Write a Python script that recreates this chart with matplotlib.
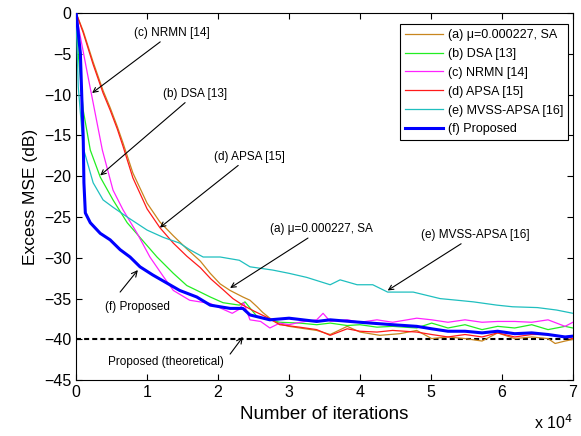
import numpy as np
import matplotlib
matplotlib.use("Agg")
from matplotlib import pyplot as plt

plt.rcParams['font.family'] = ['Liberation Sans', 'DejaVu Sans']

# Data (x in units of 10^4 iterations, y in dB)
x_a = [0, 0.1, 0.24, 0.38, 0.48, 0.58, 0.66, 0.8, 1.0, 1.18, 1.37, 1.56, 1.75, 1.89, 2.03, 2.17,
       2.35, 2.45, 2.55, 2.63, 2.73, 2.87, 3.0, 3.15, 3.39, 3.58, 3.82, 4.0, 4.28, 4.56, 4.8, 5.01,
       5.24, 5.48, 5.72, 5.94, 6.18, 6.42, 6.65, 6.75, 6.89, 7.0]
mse_a = [0, -2.2, -6.0, -9.5, -11.6, -13.9, -15.9, -19.6, -23.3, -25.6, -27.3, -28.9, -30.4, -31.9,
         -33.2, -34.0, -34.8, -35.2, -36.0, -36.7, -37.4, -38.1, -38.4, -38.6, -38.9, -39.4, -38.4,
         -39.1, -39.5, -39.3, -38.9, -39.9, -39.7, -39.9, -40.2, -39.2, -39.9, -39.7, -39.9, -40.5,
         -40.2, -40.0]

x_b = [0, 0.03, 0.1, 0.2, 0.34, 0.52, 0.72, 0.9, 1.14, 1.37, 1.56, 1.75, 1.89, 2.07, 2.3, 2.38,
       2.55, 2.73, 2.87, 3.15, 3.39, 3.58, 3.82, 4.0, 4.24, 4.46, 4.8, 5.01, 5.24, 5.48, 5.72, 5.94,
       6.18, 6.42, 6.65, 6.89, 7.0]
mse_b = [0, -5.0, -11.9, -16.8, -20.1, -22.9, -25.7, -27.5, -29.9, -31.9, -33.4, -34.2, -34.8,
         -35.5, -35.8, -35.4, -37.2, -37.6, -37.9, -38.0, -38.2, -38.0, -38.3, -38.2, -38.5, -38.4,
         -38.6, -38.0, -38.6, -38.2, -38.8, -38.4, -38.6, -38.2, -38.8, -38.4, -38.6]

x_c = [0, 0.06, 0.15, 0.24, 0.37, 0.52, 0.66, 0.86, 1.04, 1.23, 1.37, 1.6, 1.89, 2.07, 2.2, 2.3,
       2.36, 2.45, 2.6, 2.73, 2.87, 3.0, 3.15, 3.39, 3.48, 3.58, 3.82, 4.0, 4.24, 4.46, 4.8, 5.01,
       5.24, 5.48, 5.72, 5.94, 6.18, 6.42, 6.65, 6.89, 7.0]
mse_c = [0, -2.9, -7.0, -11.0, -16.8, -21.7, -24.1, -27.0, -29.9, -32.3, -34.0, -35.2, -35.6,
         -36.3, -36.8, -36.3, -35.5, -37.6, -37.8, -38.6, -38.0, -38.2, -37.9, -37.6, -36.8, -37.8,
         -37.6, -37.9, -37.6, -37.9, -37.4, -37.6, -37.9, -37.6, -37.9, -37.8, -37.8, -37.9, -37.6,
         -38.4, -37.9]

x_d = [0, 0.1, 0.24, 0.38, 0.48, 0.58, 0.66, 0.8, 1.0, 1.18, 1.37, 1.56, 1.75, 1.9, 2.07, 2.21,
       2.35, 2.5, 2.69, 2.87, 3.15, 3.39, 3.58, 3.82, 4.0, 4.24, 4.46, 4.8, 5.01, 5.24, 5.48, 5.72,
       5.94, 6.18, 6.42, 6.65, 6.89, 7.0]
mse_d = [0, -2.4, -6.3, -9.8, -11.9, -14.2, -16.3, -20.2, -24.0, -26.3, -28.2, -29.8, -31.2, -32.6,
         -33.9, -35.0, -35.8, -36.5, -37.3, -38.2, -38.5, -38.8, -39.5, -38.7, -39.0, -39.1, -38.9,
         -39.1, -39.4, -39.7, -39.4, -39.7, -39.2, -39.7, -39.4, -39.4, -39.7, -39.9]

x_e = [0, 0.03, 0.1, 0.24, 0.38, 0.52, 0.72, 1.0, 1.23, 1.46, 1.6, 1.79, 2.03, 2.3, 2.45, 2.77,
       3.0, 3.25, 3.58, 3.72, 3.96, 4.18, 4.39, 4.75, 4.94, 5.13, 5.37, 5.6, 5.93, 6.15, 6.5, 6.77,
       7.0]
mse_e = [0, -9.0, -16.5, -20.8, -22.9, -23.8, -25.0, -26.6, -27.5, -28.2, -29.0, -29.9, -29.9,
         -30.3, -31.1, -31.5, -31.9, -32.4, -33.3, -32.7, -33.3, -33.3, -34.2, -34.2, -34.6, -35.0,
         -35.2, -35.4, -35.8, -36.0, -36.1, -36.4, -36.8]

x_f = [0, 0.06, 0.08, 0.1, 0.11, 0.13, 0.2, 0.34, 0.48, 0.62, 0.76, 0.9, 1.08, 1.28, 1.46, 1.7,
       1.89, 2.17, 2.35, 2.45, 2.73, 3.0, 3.39, 3.58, 4.0, 4.46, 4.8, 5.01, 5.24, 5.48, 5.72, 5.94,
       6.18, 6.42, 6.65, 6.89, 7.0]
mse_f = [0, -4.9, -10.3, -15.2, -20.8, -24.5, -25.7, -27.0, -27.8, -29.0, -29.9, -31.1, -32.1,
         -33.1, -34.0, -34.8, -35.8, -36.2, -36.2, -37.0, -37.6, -37.4, -37.8, -37.6, -37.9, -38.2,
         -38.4, -38.7, -39.0, -39.0, -39.2, -39.0, -39.3, -39.2, -39.4, -39.7, -39.6]

theory_level = -40

labels = ["(a) \u03bc=0.000227, SA", "(b) DSA [13]", "(c) NRMN [14]", "(d) APSA [15]",
          "(e) MVSS-APSA [16]", "(f) Proposed"]
colors = ["#c8861e", "#22ee22", "#ff22ff", "#ff1a1a", "#1fbfbf", "#0000ff"]

fig = plt.figure(figsize=(5.81, 4.36), dpi=100)
ax = fig.add_axes([0.131, 0.128, 0.855, 0.842])

series = [(x_a, mse_a), (x_b, mse_b), (x_c, mse_c), (x_d, mse_d), (x_e, mse_e), (x_f, mse_f)]
for i, (xs, ys) in enumerate(series):
    lw = 2.2 if i == 5 else 0.9
    ax.plot(xs, ys, color=colors[i], lw=lw, label=labels[i], zorder=3 + (i == 5))

ax.plot([0, 7], [theory_level, theory_level], color="black", lw=1.5, dashes=(2.4, 1.5), zorder=2)

ax.set_xlim(0, 7)
ax.set_ylim(-45, 0)
ax.set_xticks(range(0, 8))
ax.set_yticks(range(-45, 1, 5))
ax.tick_params(direction="in", top=True, right=True, length=4, labelsize=11.5)
ax.set_xlabel("Number of iterations", fontsize=13.5)
ax.set_ylabel("Excess MSE (dB)", fontsize=12.5)
ax.text(1.0, -0.115, "x 10$^{4}$", transform=ax.transAxes, ha="right", va="center", fontsize=11.5)

leg = ax.legend(loc="upper right", bbox_to_anchor=(0.99, 0.97), borderaxespad=0, fancybox=False,
                edgecolor="black", fontsize=9, handlelength=3.0, handletextpad=0.4,
                labelspacing=0.55, framealpha=1)
leg.get_frame().set_linewidth(0.8)

# Annotations
arrow = dict(arrowstyle="->", color="black", lw=0.8, shrinkA=0, shrinkB=0)
fs = 8.5
ax.annotate("(c) NRMN [14]", xy=(0.225, -9.8), xytext=(1.35, -2.45), fontsize=fs,
            ha="center", va="center", arrowprops=arrow)
ax.annotate("(b) DSA [13]", xy=(0.34, -19.9), xytext=(1.68, -9.9), fontsize=fs,
            ha="center", va="center", arrowprops=arrow)
ax.annotate("(d) APSA [15]", xy=(1.18, -26.3), xytext=(2.44, -17.6), fontsize=fs,
            ha="center", va="center", arrowprops=arrow)
ax.annotate("(a) \u03bc=0.000227, SA", xy=(2.17, -33.7), xytext=(3.46, -26.5), fontsize=fs,
            ha="center", va="center", arrowprops=arrow)
ax.annotate("(e) MVSS-APSA [16]", xy=(4.39, -34.0), xytext=(5.62, -27.2), fontsize=fs,
            ha="center", va="center", arrowprops=arrow)
ax.annotate("", xy=(0.87, -31.5), xytext=(0.62, -34.2), arrowprops=arrow)
ax.text(0.87, -36.0, "(f) Proposed", fontsize=fs, ha="center", va="center")
ax.annotate("", xy=(2.35, -39.7), xytext=(2.17, -41.8), arrowprops=arrow)
ax.text(1.27, -42.8, "Proposed (theoretical)", fontsize=fs, ha="center", va="center")

fig.savefig("out.png", dpi=100)
